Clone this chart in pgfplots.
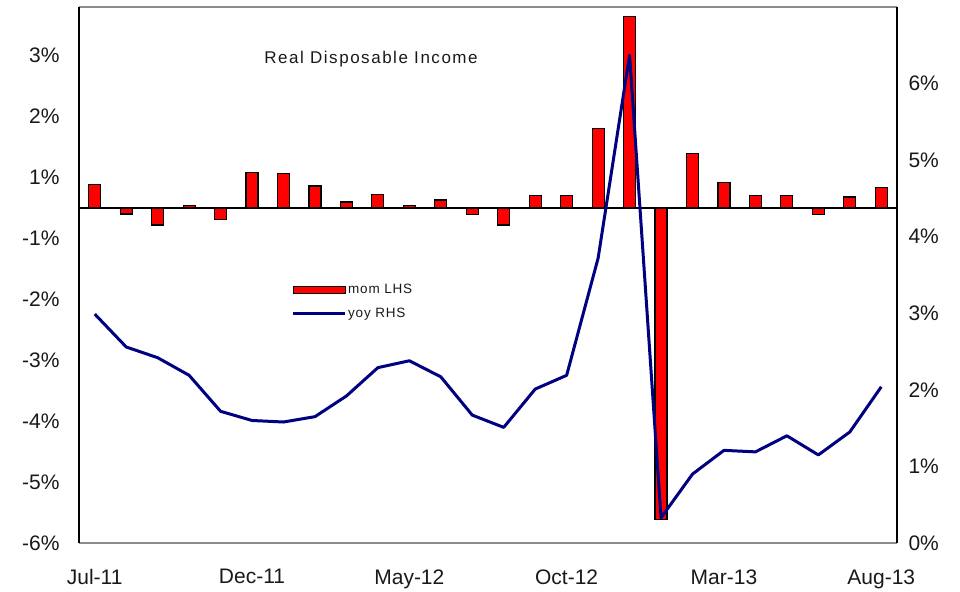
\documentclass[border=0pt]{standalone}
\usepackage{fontspec}
\setmainfont{Liberation Sans}
\newfontfamily\titlefont[LetterSpace=9]{Liberation Sans}
\newfontfamily\legfont[LetterSpace=6]{Liberation Sans}
\usepackage{pgfplots}
\pgfplotsset{compat=1.18}
\definecolor{navyline}{RGB}{0,0,128}
\definecolor{framegray}{RGB}{140,140,140}

\pgfplotstableread{
x mom yoy
0 0.38 2.99
1 -0.10 2.56
2 -0.28 2.42
3 0.04 2.19
4 -0.19 1.72
5 0.58 1.60
6 0.56 1.58
7 0.36 1.65
8 0.10 1.92
9 0.22 2.29
10 0.04 2.38
11 0.13 2.17
12 -0.11 1.67
13 -0.28 1.51
14 0.21 2.01
15 0.21 2.19
16 1.30 3.72
17 3.14 6.37
18 -5.12 0.33
19 0.90 0.90
20 0.42 1.21
21 0.21 1.19
22 0.21 1.40
23 -0.11 1.15
24 0.18 1.45
25 0.33 2.04
}\datatable

\begin{document}
\begin{tikzpicture}
\path[use as bounding box] (-79bp,-49bp) rectangle (881bp,543bp);
\begin{axis}[
  at={(0,0)}, anchor=south west,
  scale only axis, width=818bp, height=536bp,
  xmin=-0.5, xmax=25.5, ymin=-5.5, ymax=3.3,
  axis x line*=bottom, axis y line*=left,
  x axis line style={draw=none}, y axis line style={draw=none},
  xtick={0,5,10,15,20,25},
  xticklabels={Jul-11,Dec-11,May-12,Oct-12,Mar-13,Aug-13},
  ytick={-5.5,-4.5,-3.5,-2.5,-1.5,-0.5,0.5,1.5,2.5},
  yticklabels={-6\%,-5\%,-4\%,-3\%,-2\%,-1\%,1\%,2\%,3\%},
  major tick length=0pt,
  tick label style={font=\fontsize{21bp}{23bp}\selectfont, text=black!90},
  xticklabel style={yshift=-23bp},
  yticklabel style={xshift=-16bp},
  clip=false,
]
\addplot[ybar, bar width=12bp, bar shift=0pt, fill=red, draw=black, line width=1.2bp]
  table[x=x, y=mom] {\datatable};
\draw[black, line width=2bp] (axis cs:-0.5,0) -- (axis cs:25.5,0);
\node[font=\titlefont\fontsize{17bp}{20bp}\selectfont, text=black!90] at (axis description cs:0.357,0.903) {Real Disposable Income};
\end{axis}
\begin{axis}[
  at={(0,0)}, anchor=south west,
  scale only axis, width=818bp, height=536bp,
  xmin=-0.5, xmax=25.5, ymin=0, ymax=7,
  axis x line=none, axis y line*=right,
  y axis line style={draw=none},
  ytick={0,1,2,3,4,5,6},
  yticklabels={0\%,1\%,2\%,3\%,4\%,5\%,6\%},
  major tick length=0pt,
  tick label style={font=\fontsize{21bp}{23bp}\selectfont, text=black!90},
  yticklabel style={xshift=8bp},
  legend style={at={(axis description cs:0.26,0.485)}, anchor=north west,
    draw=none, fill=none, inner sep=0pt, outer sep=0pt,
    font=\legfont\fontsize{13.5bp}{15bp}\selectfont, text=black!90,
    row sep=10bp,
    nodes={inner sep=1.5bp, anchor=west}},
  clip=false,
]
\addlegendimage{legend image code/.code={\draw[fill=red,draw=black,line width=1bp] (0bp,-3.5bp) rectangle (52bp,3.5bp);}}
\addlegendentry{mom LHS}
\addplot[navyline, line width=3bp, line join=round, mark=none,
  legend image code/.code={\draw[navyline,line width=3bp] (0bp,0bp) -- (52bp,0bp);}]
  table[x=x, y=yoy] {\datatable};
\addlegendentry{yoy RHS}
\draw[framegray, line width=1.5bp] (rel axis cs:0,1) -- (rel axis cs:1,1);
\draw[framegray, line width=1.5bp] (rel axis cs:0,0) -- (rel axis cs:1,0);
\draw[black, line width=2bp] (rel axis cs:0,0) -- (rel axis cs:0,1);
\draw[black, line width=2bp] (rel axis cs:1,0) -- (rel axis cs:1,1);
\end{axis}
\end{tikzpicture}
\end{document}
